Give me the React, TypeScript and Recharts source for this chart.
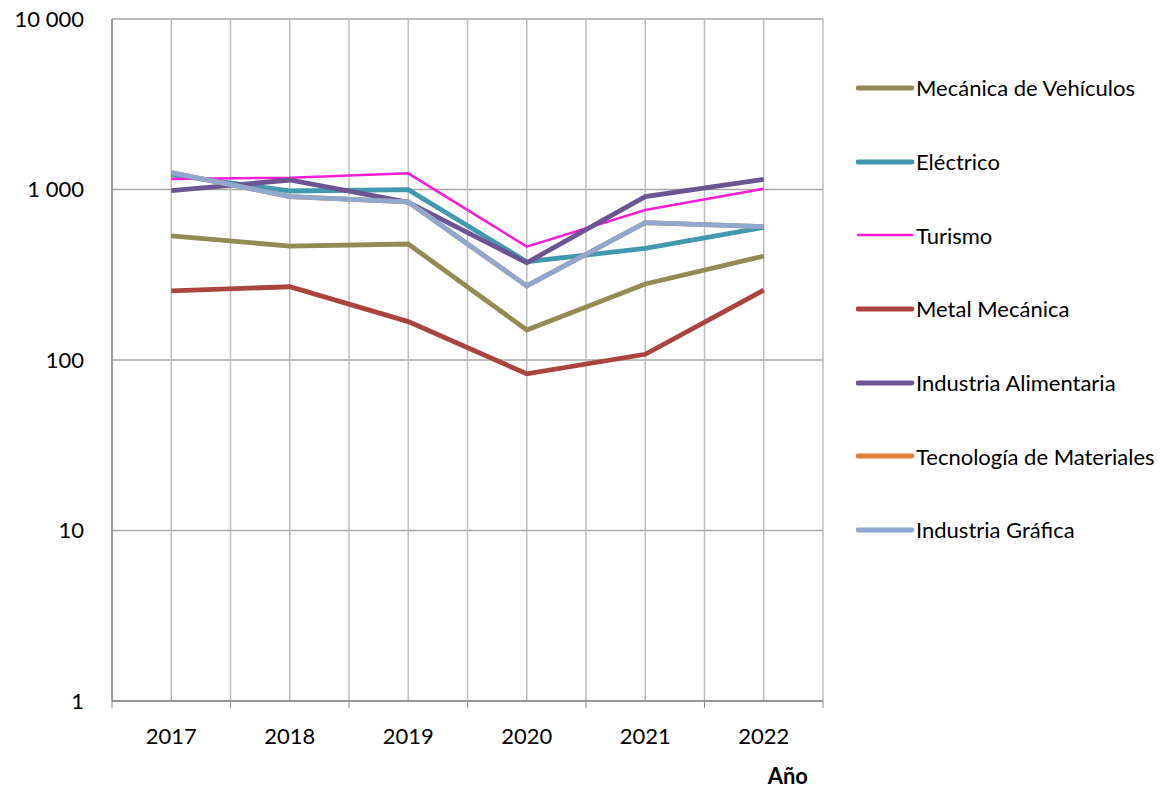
import { LineChart, Line, XAxis, YAxis, CartesianGrid, Legend, Label } from "recharts";

const years = ["2017", "2018", "2019", "2020", "2021", "2022"];
const yTicks = [1, 10, 100, 1000, 10000];

const mecanicaVehiculos = [534, 466, 479, 150, 279, 407];
const electrico = [1217, 980, 997, 377, 452, 600];
const turismo = [1153, 1173, 1245, 462, 758, 1011];
const metalMecanica = [254, 269, 168, 83, 108, 257];
const industriaAlimentaria = [984, 1137, 841, 372, 908, 1148];
const tecnologiaMateriales = [1255, 908, 845, 272, 639, 605];
const industriaGrafica = [1255, 908, 845, 272, 639, 605];

const series = [
  { key: "mv", name: "Mecánica de Vehículos", values: mecanicaVehiculos, color: "#948A54", width: 4.8 },
  { key: "el", name: "Eléctrico", values: electrico, color: "#4198AF", width: 4.8 },
  { key: "tu", name: "Turismo", values: turismo, color: "#F81ED6", width: 2.6 },
  { key: "mm", name: "Metal Mecánica", values: metalMecanica, color: "#A9443F", width: 4.8 },
  { key: "ia", name: "Industria Alimentaria", values: industriaAlimentaria, color: "#6C5592", width: 4.8 },
  { key: "tm", name: "Tecnología de Materiales", values: tecnologiaMateriales, color: "#E07F36", width: 4.8 },
  { key: "ig", name: "Industria Gráfica", values: industriaGrafica, color: "#8EA8CF", width: 4.8 },
];

const data = years.map((year, i) => {
  const row: Record<string, string | number> = { year };
  series.forEach((s) => (row[s.key] = s.values[i]));
  return row;
});

const W = 1161;
const H = 791;
const PLOT_LEFT = 112;
const PLOT_RIGHT = 823;
const PLOT_TOP = 19;
const PLOT_BOTTOM = 701;
const HALF_BAND = (PLOT_RIGHT - PLOT_LEFT) / years.length / 2;
const FONT = "Lato, 'Open Sans', sans-serif";

const fmt = (v: number) => String(v).replace(/\B(?=(\d{3})+(?!\d))/g, " ");

function YearTick(props: any) {
  const { x, y, payload, index } = props;
  const last = index === years.length - 1;
  return (
    <g>
      <line x1={x - HALF_BAND} x2={x - HALF_BAND} y1={y} y2={y + 7} stroke="#8C8C8C" />
      {last && <line x1={x + HALF_BAND} x2={x + HALF_BAND} y1={y} y2={y + 7} stroke="#8C8C8C" />}
      <text x={x} y={y + 43} textAnchor="middle" fontSize={22} fontFamily={FONT} fill="#000">
        {payload.value}
      </text>
    </g>
  );
}

function LegendBox() {
  return (
    <div style={{ fontFamily: FONT, fontSize: 22, color: "#000" }}>
      {series.map((s) => (
        <div key={s.key} style={{ display: "flex", alignItems: "center", height: 73.7 }}>
          <svg width={60} height={10} style={{ display: "block" }}>
            <line x1={2} x2={56} y1={5} y2={5} stroke={s.color} strokeWidth={s.width} strokeLinecap="round" />
          </svg>
          <span style={{ whiteSpace: "nowrap" }}>{s.name}</span>
        </div>
      ))}
    </div>
  );
}

export default function App() {
  return (
    <div style={{ position: "absolute", left: 0, top: 0, width: W, height: H, background: "#fff" }}>
      <LineChart
        width={W}
        height={H}
        data={data}
        margin={{ top: PLOT_TOP, right: W - PLOT_RIGHT, bottom: 0, left: 0 }}
      >
        <CartesianGrid vertical={false} stroke="#A6A6A6" strokeWidth={1.3} />
        <CartesianGrid
          horizontal={false}
          stroke="#BDBDBD"
          strokeWidth={1.5}
          verticalCoordinatesGenerator={({ offset }: any) =>
            Array.from({ length: years.length * 2 + 1 }, (_, i) => offset.left + (i * offset.width) / (years.length * 2))
          }
        />
        <XAxis
          dataKey="year"
          height={H - PLOT_BOTTOM}
          padding={{ left: HALF_BAND, right: HALF_BAND }}
          tickLine={false}
          tickSize={0}
          tickMargin={0}
          axisLine={{ stroke: "#8C8C8C", strokeWidth: 1.5 }}
          tick={<YearTick />}
          interval={0}
        >
          <Label
            content={({ viewBox }: any) => (
              <text
                x={viewBox.x + viewBox.width - 15}
                y={viewBox.y + viewBox.height - 7}
                textAnchor="end"
                fontSize={22}
                fontWeight="bold"
                fontFamily={FONT}
                fill="#000"
              >
                Año
              </text>
            )}
          />
        </XAxis>
        <YAxis
          scale="log"
          domain={[1, 10000]}
          ticks={yTicks}
          allowDataOverflow
          width={PLOT_LEFT}
          tickFormatter={fmt}
          tickLine={false}
          tickSize={0}
          tickMargin={28}
          axisLine={{ stroke: "#8C8C8C", strokeWidth: 1.5 }}
          tick={{ fontSize: 22, fontFamily: FONT, fill: "#000" }}
        />
        <Legend
          layout="vertical"
          align="center"
          verticalAlign="middle"
          content={() => <LegendBox />}
          wrapperStyle={{ left: 856, top: 51, width: 305 }}
        />
        {series.map((s) => (
          <Line
            key={s.key}
            type="linear"
            dataKey={s.key}
            name={s.name}
            stroke={s.color}
            strokeWidth={s.width}
            dot={false}
            activeDot={false}
            isAnimationActive={false}
          />
        ))}
      </LineChart>
    </div>
  );
}
